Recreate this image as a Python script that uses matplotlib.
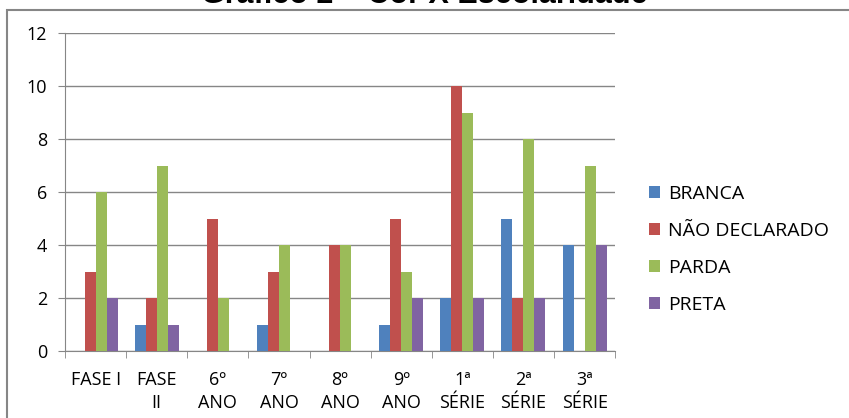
import numpy as np
import matplotlib
matplotlib.use("Agg")
import matplotlib.pyplot as plt
from matplotlib.patches import Rectangle

# ── Data ──────────────────────────────────────────────────────────────────────
categories = ["FASE I", "FASE\nII", "6º\nANO", "7º\nANO", "8º\nANO",
              "9º\nANO", "1ª\nSÉRIE", "2ª\nSÉRIE", "3ª\nSÉRIE"]
branca        = [0, 1, 0, 1, 0, 1, 2, 5, 4]
nao_declarado = [3, 2, 5, 3, 4, 5, 10, 2, 0]
parda         = [6, 7, 2, 4, 4, 3, 9, 8, 7]
preta         = [2, 1, 0, 0, 0, 2, 2, 2, 4]

series = [
    ("BRANCA",         branca,        "#4F81BD"),
    ("NÃO DECLARADO",  nao_declarado, "#C0504D"),
    ("PARDA",          parda,         "#9BBB59"),
    ("PRETA",          preta,         "#8064A2"),
]

FONT = ["Open Sans", "DejaVu Sans"]
FS = 13
GRID = "#868686"

fig = plt.figure(figsize=(8.49, 4.18), dpi=100)
ax = fig.add_axes([0.0766, 0.160, 0.648, 0.761])

x = np.arange(len(categories))
bw = 0.18
for i, (name, vals, col) in enumerate(series):
    ax.bar(x + (i - 1.5) * bw, vals, width=bw, color=col, label=name, zorder=3)

ax.set_xlim(-0.5, len(categories) - 0.5)
ax.set_ylim(0, 12)
ax.set_yticks(range(0, 13, 2))
ax.set_xticks(x)
ax.set_xticklabels(categories, fontsize=FS, family=FONT, linespacing=1.4)
ax.set_xticks(np.arange(-0.5, len(categories)), minor=True)
ax.tick_params(axis="x", which="major", length=0, pad=14)
ax.tick_params(axis="x", which="minor", length=5, color=GRID)
ax.tick_params(axis="y", length=5, color=GRID, pad=8)
for lbl in ax.get_yticklabels():
    lbl.set_fontsize(FS)
    lbl.set_family(FONT)

ax.yaxis.grid(True, color=GRID, lw=1, zorder=0)
for s in ["top", "right"]:
    ax.spines[s].set_visible(False)
for s in ["left", "bottom"]:
    ax.spines[s].set_color(GRID)

ax.legend(loc="center left", bbox_to_anchor=(1.03, 0.32), frameon=False,
          prop={"family": FONT, "size": 14}, handlelength=0.55, handleheight=0.55,
          labelspacing=0.98, handletextpad=0.4)

# outer chart frame
fig.patches.append(Rectangle((7 / 849, -0.05), 1.0, 1 - 10 / 418 + 0.05,
                             transform=fig.transFigure, fill=False,
                             edgecolor=GRID, lw=1.5))

fig.text(0.5, 1 - 3 / 418, "Gráfico 2 – Cor X Escolaridade", ha="center",
         va="baseline", fontsize=22, fontweight="bold",
         family=["Liberation Sans", "DejaVu Sans"])

fig.savefig("out.png", dpi=100)
